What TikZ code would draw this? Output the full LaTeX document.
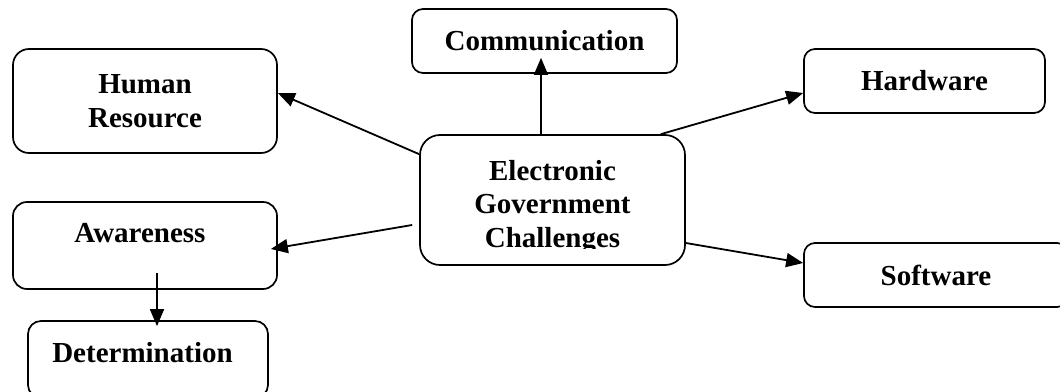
\documentclass[tikz,border=0pt]{standalone}
\usepackage{fontspec}
\setmainfont{Liberation Serif}
\usetikzlibrary{arrows.meta}
\begin{document}
\begin{tikzpicture}[x=1pt,y=-1pt,
  box/.style={draw,line width=1.7pt,rounded corners=#1,inner sep=0pt,align=center,
    font=\fontsize{29}{33.5}\selectfont\bfseries},
  box/.default=11pt,
  label text/.style={inner sep=0pt,align=center,font=\fontsize{29}{33.5}\selectfont\bfseries},
  conn/.style={line width=1.8pt,-{Triangle[length=17pt,width=14pt]}}]
\useasboundingbox (0,0) rectangle (1060,391);
\clip (0,0) rectangle (1060,391);
% boxes
\node[box,minimum width=265pt,minimum height=64pt] (comm) at (544.5,41) {Communication};
\node[box=16pt,minimum width=264pt,minimum height=104pt] (hr) at (145,101) {Human\\Resource};
\node[box,minimum width=241pt,minimum height=64pt] (hw) at (924.5,81) {Hardware};
\node[box=20pt,minimum width=265pt,minimum height=130pt] (egc) at (552.5,200) {};
\begin{scope}
  \clip (420,130) rectangle (685,248);
  \node[label text,anchor=north] (egctext) at (552.5,160) {Electronic\\Government\\Challenges};
\end{scope}
\node[box=14pt,minimum width=264pt,minimum height=87pt,text depth=25.4pt] (aw) at (145,245.5) {Awareness\hspace*{10pt}};
\node[box,minimum width=264pt,minimum height=64pt] (sw) at (936,275) {Software};
\node[box=13pt,minimum width=240pt,minimum height=77pt,text height=19.6pt,text depth=13.4pt] (det) at (148,359.5) {Determination\hspace*{11pt}};
% connectors
\draw[conn] ([yshift=-20pt]egc.north west) -- ([yshift=8pt]hr.east);
\draw[conn] ([xshift=-11.5pt]egc.north) -- ([xshift=-3.5pt,yshift=16pt]comm.south);
\draw[conn] ([xshift=-25pt]egc.north east) -- ([yshift=-12pt]hw.west);
\draw[conn] ([yshift=-43pt]egc.east) -- ([yshift=12pt]sw.west);
\draw[conn] ([xshift=-7pt,yshift=-25pt]egc.west) -- ([xshift=-7pt,yshift=-3.5pt]aw.east);
\draw[conn] ([xshift=12pt,yshift=17pt]aw.south) -- ([xshift=9pt,yshift=-6pt]det.north);
\end{tikzpicture}
\end{document}
